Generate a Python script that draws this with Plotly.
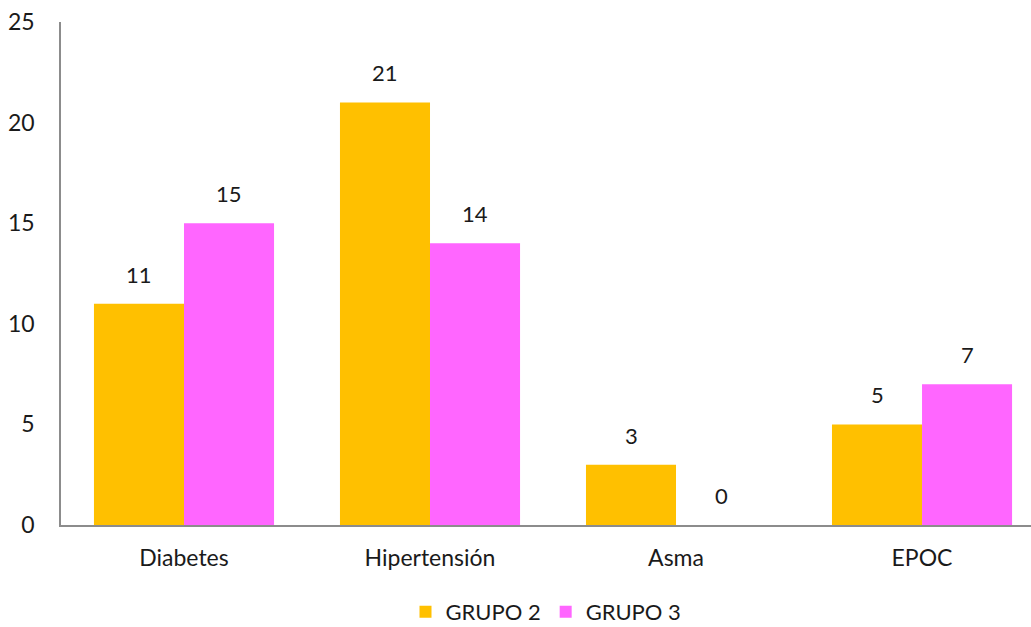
import plotly.graph_objects as go

categories = ["Diabetes", "Hipertensión", "Asma", "EPOC"]
grupo2 = [11, 21, 3, 5]
grupo3 = [15, 14, 0, 7]
series_names = ["GRUPO 2", "GRUPO 3"]
y_ticks = [0, 5, 10, 15, 20, 25]

colors = ["#FFC000", "#FF66FF"]
font_family = "Lato, 'Open Sans', sans-serif"
text_color = "#1a1a1a"

fig = go.Figure()
for name, vals, col in zip(series_names, [grupo2, grupo3], colors):
    fig.add_trace(go.Bar(
        x=categories, y=vals, name=name,
        marker=dict(color=col, line=dict(width=0)),
    ))

# value labels above each bar
half_px = 45
for offset, vals in zip([-half_px, half_px], [grupo2, grupo3]):
    for cat, v in zip(categories, vals):
        fig.add_annotation(
            x=cat, y=v, text=str(v), showarrow=False,
            xshift=offset, yshift=14, yanchor="bottom",
            font=dict(family=font_family, size=22, color=text_color),
        )

fig.update_layout(
    width=1031, height=627,
    margin=dict(l=61, r=0, t=22, b=102, autoexpand=False),
    paper_bgcolor="white", plot_bgcolor="white",
    barmode="group", bargap=0.268, bargroupgap=0,
    font=dict(family=font_family, size=22, color=text_color),
    showlegend=True,
    legend=dict(
        orientation="h", x=0.5, xanchor="center",
        yref="container", y=0.024, yanchor="middle",
        font=dict(family=font_family, size=22, color=text_color),
        itemwidth=30, traceorder="normal",
    ),
    xaxis=dict(
        type="category", range=[-0.5, 3.443],
        showline=True, linecolor="#8c8c8c", linewidth=1.5,
        showgrid=False, ticks="", ticklabelstandoff=12,
        tickfont=dict(family=font_family, size=23, color=text_color),
    ),
    yaxis=dict(
        range=[0, 25], tickvals=y_ticks,
        showline=True, linecolor="#8c8c8c", linewidth=1.5,
        showgrid=False, zeroline=False, ticks="", ticklabelstandoff=20,
        tickfont=dict(family=font_family, size=23, color=text_color),
    ),
)

fig.write_html("out.html")
